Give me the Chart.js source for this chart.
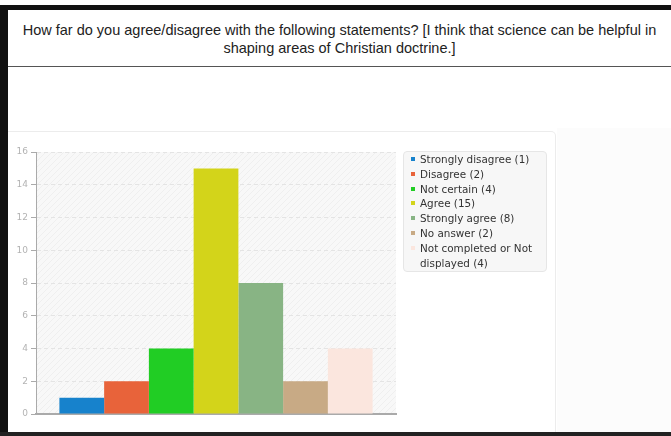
<!DOCTYPE html>
<html>
<head>
<meta charset="utf-8">
<script src="https://cdn.jsdelivr.net/npm/chart.js@4"></script>
<style>
  html, body { margin: 0; padding: 0; width: 671px; height: 436px; overflow: hidden; background: #fff; }
  #frameTop { position: absolute; left: 0; top: 5px; width: 671px; height: 5px; background: #111; }
  #frameLeft { position: absolute; left: 0; top: 5px; width: 8px; height: 431px; background: #111; }
  #frameBottom { position: absolute; left: 0; top: 432px; width: 671px; height: 4px; background: #222; }
  #title { position: absolute; left: 8px; top: 11px; width: 663px; height: 56px; display: flex; align-items: center; justify-content: center; text-align: center; font-family: "Liberation Sans", Arial, sans-serif; font-size: 14.5px; line-height: 18px; color: #222; letter-spacing: 0px; }
  #titleLine { position: absolute; left: 8px; top: 66px; width: 663px; height: 1px; background: #555; }
  #rightBg { position: absolute; left: 557px; top: 128px; width: 114px; height: 304px; background: #fcfcfc; }
  #panel { position: absolute; left: 8px; top: 131px; width: 548px; height: 310px; background: #fff; border: 1px solid #ececec; border-radius: 0 5px 0 0; box-sizing: border-box; border-left: none; }
  #chartWrap { position: absolute; left: 0; top: 0; width: 671px; height: 436px; }
  #legend { position: absolute; left: 403px; top: 151px; width: 144px; height: 121px; box-sizing: border-box; background: #f7f7f7; border: 1px solid #e6e6e6; border-radius: 4px; padding: 0; font-family: "DejaVu Sans", sans-serif; font-size: 10.4px; color: #333; }
  .item { position: relative; padding-left: 16px; line-height: 14.8px; width: 124px; }
  .mark { position: absolute; left: 7px; top: 5px; width: 4px; height: 4px; }
</style>
</head>
<body>
<div id="frameTop"></div>
<div id="title">How far do you agree/disagree with the following statements? [I think that science can be helpful in<br>shaping areas of Christian doctrine.]</div>
<div id="titleLine"></div>
<div id="rightBg"></div>
<div id="panel"></div>
<div id="chartWrap"><canvas id="c" width="671" height="436"></canvas></div>
<div id="legend"></div>
<div id="frameLeft"></div>
<div id="frameBottom"></div>
<script>
const categories = ["Strongly disagree", "Disagree", "Not certain", "Agree", "Strongly agree", "No answer", "Not completed or Not displayed"];
const counts = [1, 2, 4, 15, 8, 2, 4];
const colors = ["#1782cc", "#e8633a", "#21cd24", "#d3d41a", "#88b484", "#c8aa85", "#fbe6de"];
const yTicks = [0, 2, 4, 6, 8, 10, 12, 14, 16];

// HTML legend built from the data
const legend = document.getElementById('legend');
categories.forEach((c, i) => {
  const d = document.createElement('div');
  d.className = 'item';
  const m = document.createElement('span');
  m.className = 'mark';
  m.style.background = colors[i];
  d.appendChild(m);
  d.appendChild(document.createTextNode(c + ' (' + counts[i] + ')'));
  legend.appendChild(d);
});

const hatch = {
  id: 'hatch',
  beforeDraw(chart) {
    const { ctx, chartArea: a } = chart;
    const p = document.createElement('canvas');
    p.width = 6; p.height = 6;
    const pc = p.getContext('2d');
    pc.fillStyle = '#f8f8f8'; pc.fillRect(0, 0, 6, 6);
    pc.strokeStyle = '#efefef'; pc.lineWidth = 1;
    pc.beginPath(); pc.moveTo(0, 6); pc.lineTo(6, 0); pc.stroke();
    ctx.save();
    ctx.fillStyle = ctx.createPattern(p, 'repeat');
    ctx.fillRect(a.left, a.top, a.right - a.left, a.bottom - a.top);
    ctx.restore();
  }
};

new Chart(document.getElementById('c'), {
  type: 'bar',
  data: {
    labels: [''],
    datasets: categories.map((c, i) => ({
      label: c + ' (' + counts[i] + ')',
      data: [counts[i]],
      backgroundColor: colors[i],
      borderWidth: 0,
      categoryPercentage: 0.87,
      barPercentage: 1.0
    }))
  },
  options: {
    responsive: false,
    animation: false,
    layout: { padding: { left: 8, right: 275, top: 152, bottom: 22 } },
    plugins: { legend: { display: false }, tooltip: { enabled: false }, title: { display: false } },
    scales: {
      x: {
        ticks: { display: false },
        grid: { display: false, drawTicks: false },
        border: { display: true, color: '#aaaaaa', width: 2 },
        afterFit(s) { s.height = 0; }
      },
      y: {
        min: 0, max: 16,
        afterBuildTicks(s) { s.ticks = yTicks.map(v => ({ value: v })); },
        ticks: { color: '#b3b3b3', font: { family: 'DejaVu Sans', size: 9 }, padding: 3 },
        grid: { color: '#e4e4e4', tickColor: '#aaaaaa', tickLength: 5, tickBorderDash: [] },
        border: { display: true, color: '#aaaaaa', width: 1, dash: [4, 3] },
        afterFit(s) { s.width = 28; }
      }
    }
  },
  plugins: [hatch]
});
</script>
</body>
</html>
